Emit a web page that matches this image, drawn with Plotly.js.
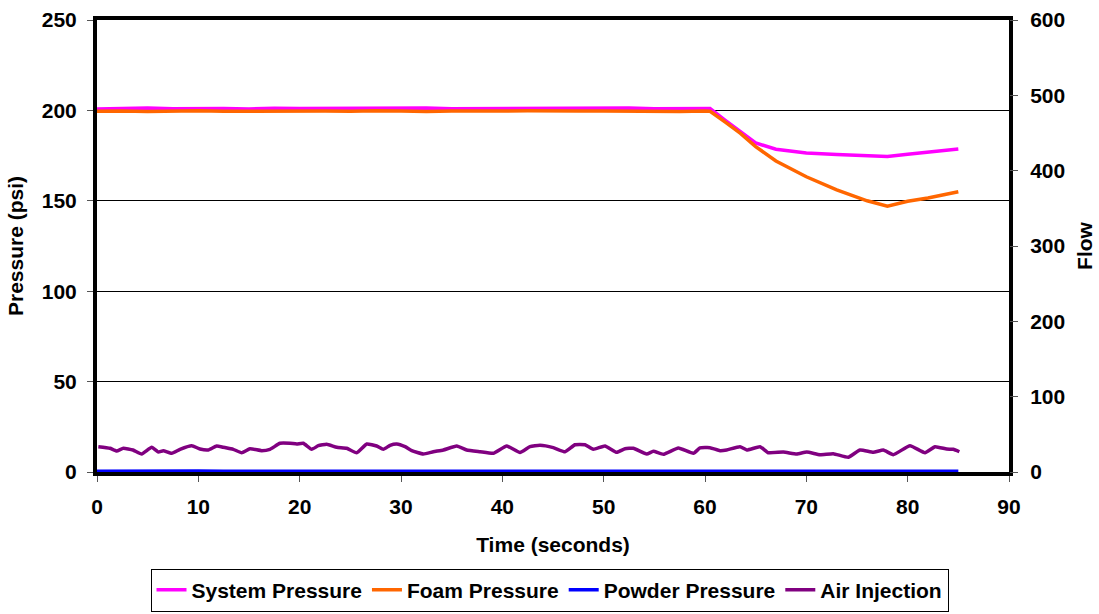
<!DOCTYPE html>
<html>
<head>
<meta charset="utf-8">
<script src="https://cdn.plot.ly/plotly-3.0.1.min.js"></script>
<style>html,body{margin:0;padding:0;background:#fff;}#chart{width:1099px;height:614px;}</style>
</head>
<body>
<div id="chart"></div>
<script>
const pressureTime = [0, 2.5, 5, 7.5, 10, 12.5, 15, 17.5, 20, 22.5, 25, 27.5, 30, 32.5, 35, 37.5, 40, 42.5, 45, 47.5, 50, 52.5, 55, 57.5, 60, 60.5, 62, 63.5, 65, 67, 70, 73, 76, 78, 80, 82, 85];
const systemPressure = [200.8, 201.0, 201.3, 200.9, 201.1, 201.0, 200.8, 201.2, 201.0, 201.1, 200.9, 201.2, 201.0, 201.3, 200.9, 201.0, 201.1, 200.8, 201.2, 201.0, 201.1, 201.3, 200.9, 201.0, 201.1, 201.0, 194.5, 188.0, 182.0, 178.5, 176.5, 175.6, 175.0, 174.5, 175.7, 176.8, 178.6];
const foamPressure = [199.5, 199.7, 199.4, 199.6, 199.8, 199.5, 199.6, 199.4, 199.7, 199.6, 199.5, 199.8, 199.6, 199.4, 199.7, 199.5, 199.6, 199.8, 199.5, 199.6, 199.7, 199.5, 199.6, 199.4, 199.6, 199.5, 193.5, 187.3, 180.0, 172.0, 163.3, 156.0, 150.0, 147.0, 149.7, 151.6, 155.0];
const powderPressure = [0.4, 0.5, 0.4, 0.4, 0.5, 0.4, 0.4, 0.5, 0.4, 0.4, 0.5, 0.4, 0.4, 0.5, 0.4, 0.4, 0.5, 0.4, 0.4, 0.5, 0.4, 0.4, 0.5, 0.4, 0.4, 0.5, 0.4, 0.4, 0.5, 0.4, 0.4, 0.5, 0.4, 0.4, 0.5, 0.4, 0.4];

const airTime = [0.13, 1.28, 1.94, 2.6, 3.55, 4.41, 5.4, 6.05, 6.54, 7.37, 8.19, 9.35, 10.16, 10.98, 11.81, 12.46, 13.45, 14.28, 15.1, 16.25, 17.07, 18.06, 19.05, 19.71, 20.36, 21.19, 21.84, 22.67, 23.66, 24.64, 25.63, 26.62, 27.6, 28.25, 28.92, 29.58, 30.4, 31.06, 32.2, 33.19, 34.18, 35.5, 36.48, 37.8, 39.11, 40.43, 41.74, 42.73, 43.72, 45.03, 46.19, 47.17, 48.16, 48.98, 50.13, 51.29, 52.11, 52.93, 54.25, 54.9, 55.89, 57.37, 58.85, 59.51, 60.49, 61.48, 62.14, 63.45, 64.12, 65.43, 66.25, 67.73, 69.05, 70.04, 71.35, 72.66, 74.14, 75.3, 76.61, 77.6, 78.58, 80.23, 81.71, 82.7, 83.85, 84.5, 85.1];
const airInjection = [33.6, 31.5, 27.9, 31.5, 29.2, 23.9, 32.8, 26.5, 28.3, 24.8, 30.1, 34.9, 30.5, 29.2, 34.5, 32.8, 30.1, 25.6, 30.9, 28.3, 30.1, 38.1, 38.1, 37.2, 38.1, 30.1, 34.9, 36.8, 32.8, 31.5, 25.6, 37.2, 34.5, 30.1, 35.4, 37.2, 33.6, 28.3, 23.9, 26.9, 29.2, 34.5, 29.2, 26.9, 24.8, 34.5, 25.9, 33.6, 35.4, 32.3, 26.9, 36.2, 36.2, 30.1, 34.5, 26.2, 30.9, 31.5, 23.9, 27.5, 23.5, 31.9, 24.8, 31.9, 32.3, 28.3, 29.2, 33.6, 29.2, 33.6, 25.6, 26.5, 23.9, 26.5, 23.0, 24.3, 19.5, 29.2, 26.2, 29.2, 23.0, 34.9, 25.6, 33.6, 30.5, 30.1, 26.9];

const seriesNames = ['System Pressure', 'Foam Pressure', 'Powder Pressure', 'Air Injection'];
const seriesColors = ['#FF00FF', '#FF6600', '#0000FF', '#800080'];

const fam = 'Liberation Sans, Arial, sans-serif';
const bold = (s) => ({family: fam, size: s, color: '#000', weight: 'bold'});

const traces = [
  {x: pressureTime, y: systemPressure, name: seriesNames[0], type: 'scatter', mode: 'lines', line: {color: seriesColors[0], width: 3.5}},
  {x: pressureTime, y: foamPressure, name: seriesNames[1], type: 'scatter', mode: 'lines', line: {color: seriesColors[1], width: 3.5}},
  {x: pressureTime, y: powderPressure, name: seriesNames[2], type: 'scatter', mode: 'lines', line: {color: seriesColors[2], width: 3.5}},
  {x: airTime, y: airInjection, name: seriesNames[3], type: 'scatter', mode: 'lines', yaxis: 'y2', line: {color: seriesColors[3], width: 3.5, shape: 'spline', smoothing: 0.4}}
];

const layout = {
  width: 1099, height: 614,
  margin: {l: 97, r: 90, t: 20, b: 142},
  paper_bgcolor: '#fff', plot_bgcolor: '#fff',
  font: bold(21),
  showlegend: true,
  legend: {orientation: 'h', x: 0.5, xanchor: 'center', xref: 'container', y: 0.004, yanchor: 'bottom', yref: 'container',
           bordercolor: '#000', borderwidth: 1, font: bold(21),
           itemwidth: 30, tracegroupgap: 0},
  xaxis: {range: [0, 90], dtick: 10, tick0: 0, showgrid: false, zeroline: false,
          showline: true, linecolor: '#000', linewidth: 4, mirror: true, layer: 'below traces',
          ticks: 'outside', ticklen: 6, tickcolor: '#555', tickwidth: 1, ticklabelstandoff: 7,
          tickfont: bold(21),
          title: {text: 'Time (seconds)', font: bold(21), standoff: 21}},
  yaxis: {range: [0, 250], dtick: 50, tick0: 0, showgrid: true, gridcolor: '#000', gridwidth: 1, zeroline: false,
          showline: true, linecolor: '#000', linewidth: 4, mirror: true, layer: 'below traces',
          ticks: 'outside', ticklen: 6, tickcolor: '#555', tickwidth: 1, ticklabelstandoff: 6,
          tickfont: bold(21),
          title: {text: 'Pressure (psi)', font: bold(21), standoff: 13}},
  yaxis2: {range: [0, 600], dtick: 100, tick0: 0, overlaying: 'y', side: 'right', showgrid: false, zeroline: false,
           showline: false, ticks: 'outside', ticklen: 8, tickcolor: '#555', tickwidth: 1, ticklabelstandoff: 8,
           tickfont: bold(21),
           title: {text: 'Flow', font: bold(21), standoff: 13}}
};

Plotly.newPlot('chart', traces, layout, {displayModeBar: false, staticPlot: true});
</script>
</body>
</html>
